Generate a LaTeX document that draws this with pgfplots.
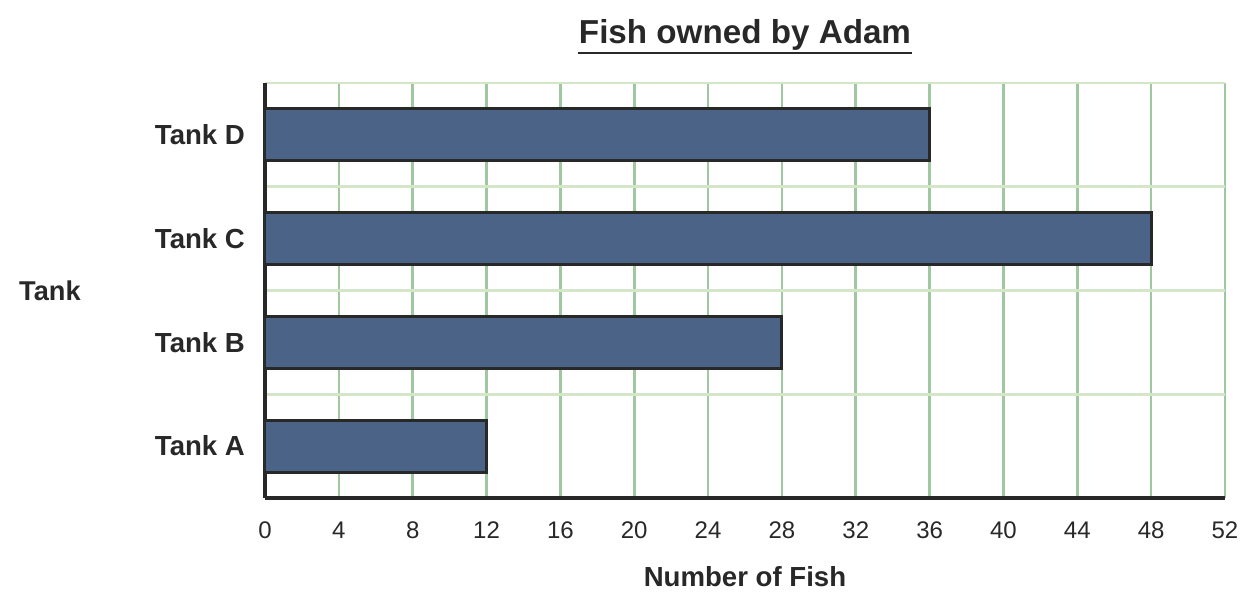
\documentclass[border=0pt]{standalone}
\usepackage{pgfplots}
\pgfplotsset{compat=1.18}
\usepackage{fontspec}
\setmainfont{Liberation Sans}
\definecolor{barfill}{RGB}{74,99,135}
\definecolor{dark}{RGB}{40,40,40}
\definecolor{vgrid}{RGB}{160,200,160}
\definecolor{hgrid}{RGB}{212,230,200}
\begin{document}
\begin{tikzpicture}
\useasboundingbox (-132.5pt,-53.5pt) rectangle (496pt,249pt);
\begin{axis}[
  at={(0,0)}, anchor=south west,
  scale only axis, width=480pt, height=207.5pt,
  xmin=0, xmax=52, ymin=-0.5, ymax=3.5,
  xtick={0,4,...,52},
  ytick={0,1,2,3},
  yticklabels={Tank A,Tank B,Tank C,Tank D},
  minor ytick={0.5,1.5,2.5,3.5},
  xmajorgrids, yminorgrids,
  major x grid style={vgrid, line width=1.3pt},
  minor y grid style={hgrid, line width=1.3pt},
  axis x line=bottom, axis y line=left,
  axis line style={-, dark, line width=1.6pt},
  major tick length=0pt, minor tick length=0pt,
  /pgf/number format/assume math mode=true,
  tick label style={font=\fontsize{12}{14}\selectfont, text=dark},
  xticklabel style={yshift=-8.5pt},
  yticklabel style={font=\fontsize{13.8}{16}\selectfont\bfseries, text=dark, xshift=-6.5pt},
  xlabel={Number of Fish},
  xlabel style={at={(axis description cs:0.5,-0.1904)}, anchor=center, font=\fontsize{13.8}{16}\selectfont\bfseries, text=dark},
  ylabel={Tank},
  ylabel style={at={(axis description cs:-0.224,0.5)}, rotate=-90, anchor=center, font=\fontsize{13.6}{16}\selectfont\bfseries, text=dark},
  title={Fish owned by Adam},
  title style={at={(axis description cs:0.5,1.1229)}, anchor=center, yshift=-7.5pt, font=\fontsize{16.6}{20}\selectfont\bfseries, text=dark},
  xbar, bar width=0.5,
]
\addplot[fill=barfill, draw=dark, line width=1.5pt] coordinates {(12,0) (28,1) (48,2) (36,3)};
\end{axis}
\draw[dark, line width=1pt] (156.5pt,222.5pt) -- (323.5pt,222.5pt);
\end{tikzpicture}
\end{document}
